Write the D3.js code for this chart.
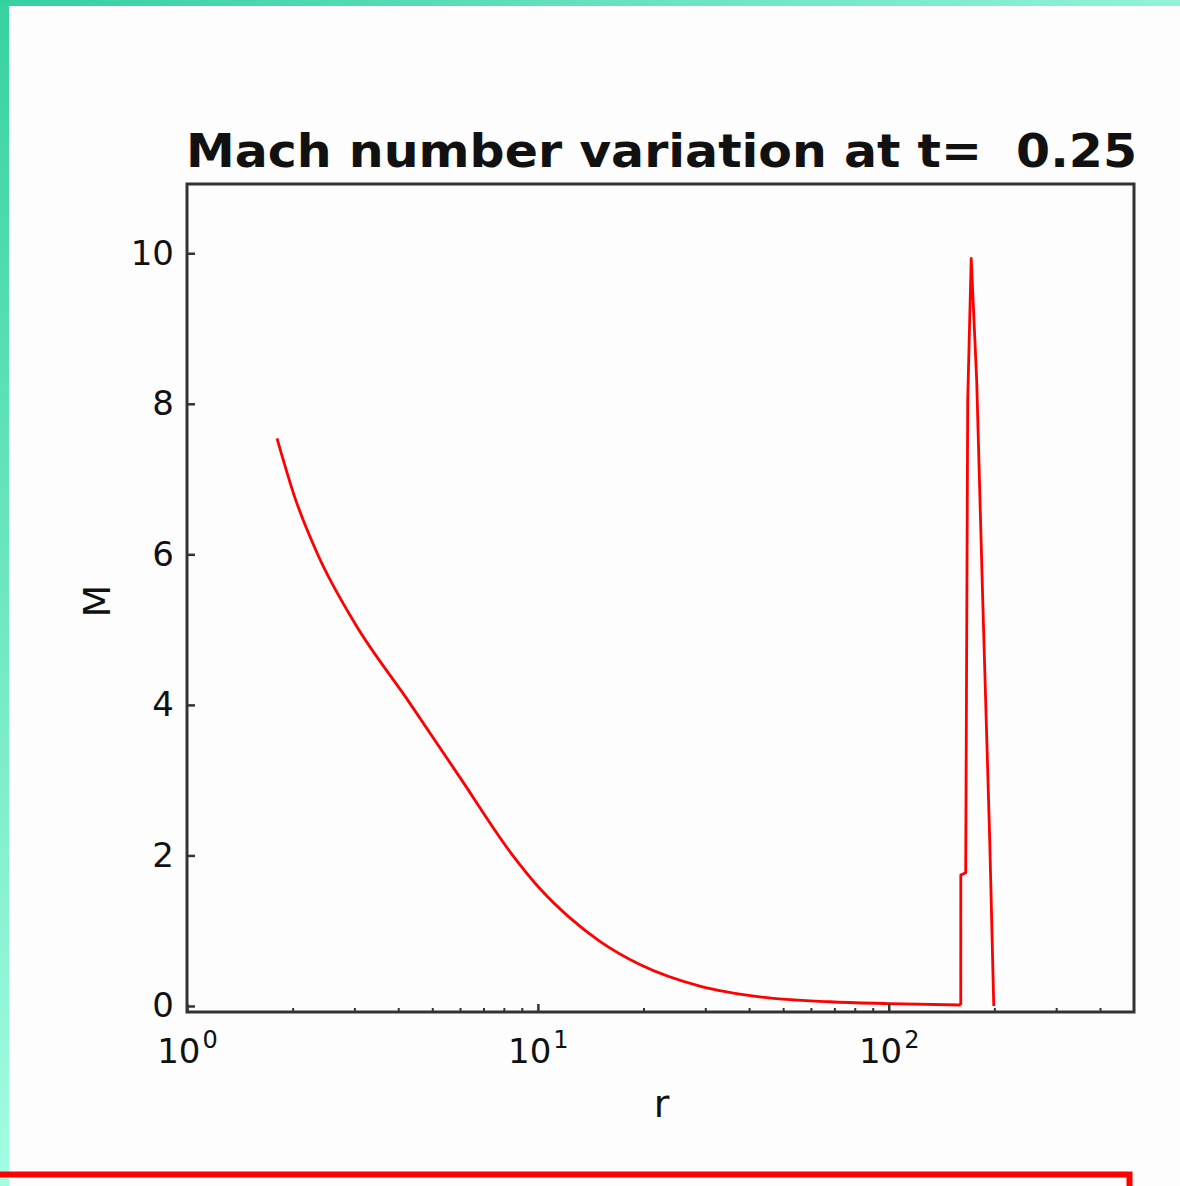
<!DOCTYPE html>
<html>
<head>
<meta charset="utf-8">
<script src="https://cdn.jsdelivr.net/npm/d3@7"></script>
<style>
  html, body { margin: 0; padding: 0; background: #fdfdfd; }
  svg { display: block; }
  text { font-family: "DejaVu Sans", sans-serif; fill: #111; white-space: pre; }
</style>
</head>
<body>
<svg id="chart" width="1180" height="1186"></svg>
<script>
// Smooth decay of the Mach number behind the inner boundary (radius on a log axis)
const decayRadius = [1.805, 2.030, 2.362, 3.011, 4.262, 5.995, 8.434, 10.13, 12.34, 15.02, 19.53, 28.94, 42.90, 67.90, 100, 160.4];
const decayMach   = [7.54, 6.754, 5.991, 5.081, 4.060, 3.037, 2.015, 1.560, 1.170, 0.859, 0.551, 0.264, 0.121, 0.056, 0.032, 0.013];
// Shock spike near r ~ 170
const spikeRadius = [160.4, 160.45, 165.7, 167.9, 171.8, 178.1, 185.3, 194.0, 199.2];
const spikeMach   = [0.013, 1.74, 1.77, 8.05, 9.93, 8.31, 5.39, 2.20, 0.0];

const yTicks = [0, 2, 4, 6, 8, 10];
const xMajorTicks = [1, 10, 100];
const xMinorTicks = [2, 3, 4, 5, 6, 7, 8, 9, 20, 30, 40, 50, 60, 70, 80, 90, 200, 300, 400];
const xTickExponents = ["0", "1", "2"];
const titleText = "Mach number variation at t=  0.25";

const svg = d3.select("#chart");
const W = 1180, H = 1186;
const plot = { left: 187, right: 1134, top: 184, bottom: 1012 };

// Decorative frame: gradient edges and a red box along the bottom
const defs = svg.append("defs");
const gTop = defs.append("linearGradient").attr("id", "gTop").attr("x1", 0).attr("x2", 1).attr("y1", 0).attr("y2", 0);
gTop.append("stop").attr("offset", 0).attr("stop-color", "#35d0a0");
gTop.append("stop").attr("offset", 1).attr("stop-color", "#92f3da");
const gLeft = defs.append("linearGradient").attr("id", "gLeft").attr("x1", 0).attr("x2", 0).attr("y1", 0).attr("y2", 1);
gLeft.append("stop").attr("offset", 0).attr("stop-color", "#38d1a1");
gLeft.append("stop").attr("offset", 1).attr("stop-color", "#a2fde3");

svg.append("rect").attr("x", 0).attr("y", 0).attr("width", 9).attr("height", H).attr("fill", "url(#gLeft)");
svg.append("rect").attr("x", 0).attr("y", 0).attr("width", W).attr("height", 6).attr("fill", "url(#gTop)");
svg.append("rect").attr("x", -10).attr("y", 1174.5).attr("width", 1139.5).attr("height", 60)
  .attr("fill", "none").attr("stroke", "#ff0000").attr("stroke-width", 6);

// Scales
const x = d3.scaleLog().domain([1, 500]).range([plot.left, plot.right]);
const y = d3.scaleLinear().domain([-0.08, 10.92]).range([plot.bottom, plot.top]);

// Data lines: smooth decay plus the sharp shock profile
const smoothLine = d3.line()
  .x((d, i) => x(decayRadius[i]))
  .y((d, i) => y(decayMach[i]))
  .curve(d3.curveMonotoneX);
const sharpLine = d3.line()
  .x((d, i) => x(spikeRadius[i]))
  .y((d, i) => y(spikeMach[i]))
  .curve(d3.curveLinear);

svg.append("path")
  .datum(decayRadius)
  .attr("d", smoothLine)
  .attr("fill", "none")
  .attr("stroke", "#ff0000")
  .attr("stroke-width", 2.8)
  .attr("stroke-linejoin", "round");
svg.append("path")
  .datum(spikeRadius)
  .attr("d", sharpLine)
  .attr("fill", "none")
  .attr("stroke", "#ff0000")
  .attr("stroke-width", 2.8)
  .attr("stroke-linejoin", "round");

// Axes with inward ticks
const axisColor = "#333";
const yAxis = d3.axisLeft(y).tickValues(yTicks).tickSize(-8).tickPadding(13).tickFormat(d3.format("d"));
const yg = svg.append("g").attr("transform", `translate(${plot.left},0)`).call(yAxis);
yg.select(".domain").remove();
yg.selectAll(".tick line").attr("stroke", axisColor).attr("stroke-width", 2.5);
yg.selectAll(".tick text").attr("font-size", 34).attr("fill", "#111").attr("font-family", "DejaVu Sans");

const xMinor = d3.axisBottom(x).tickValues(xMinorTicks).tickSize(-4).tickFormat("");
const xmg = svg.append("g").attr("transform", `translate(0,${plot.bottom})`).call(xMinor);
xmg.select(".domain").remove();
xmg.selectAll(".tick line").attr("stroke", axisColor).attr("stroke-width", 2);

const xMajor = d3.axisBottom(x).tickValues(xMajorTicks).tickSize(-8).tickFormat("");
const xg = svg.append("g").attr("transform", `translate(0,${plot.bottom})`).call(xMajor);
xg.select(".domain").remove();
xg.selectAll(".tick line").attr("stroke", axisColor).attr("stroke-width", 2.5);

// Power-of-ten labels with superscript exponents
xg.selectAll(".tick").each(function(d, i) {
  const t = d3.select(this).append("text")
    .attr("y", 51)
    .attr("text-anchor", "middle")
    .attr("font-size", 34)
    .attr("fill", "#111");
  t.append("tspan").text("10");
  t.append("tspan").attr("dx", 2).attr("dy", -15).attr("font-size", 24).text(xTickExponents[i]);
});

// Plot frame
svg.append("rect")
  .attr("x", plot.left).attr("y", plot.top)
  .attr("width", plot.right - plot.left).attr("height", plot.bottom - plot.top)
  .attr("fill", "none").attr("stroke", axisColor).attr("stroke-width", 3);

// Title and axis labels
svg.append("text")
  .attr("x", (plot.left + plot.right) / 2 + 1).attr("y", 167)
  .attr("text-anchor", "middle")
  .attr("font-size", 47).attr("font-weight", "bold")
  .attr("textLength", 951).attr("lengthAdjust", "spacingAndGlyphs")
  .attr("fill", "#000")
  .text(titleText);

svg.append("text")
  .attr("x", (plot.left + plot.right) / 2 + 1).attr("y", 1117)
  .attr("text-anchor", "middle")
  .attr("font-size", 38)
  .text("r");

svg.append("text")
  .attr("transform", `translate(110,${(plot.top + plot.bottom) / 2 + 3}) rotate(-90)`)
  .attr("text-anchor", "middle")
  .attr("font-size", 38)
  .text("M");
</script>
</body>
</html>
